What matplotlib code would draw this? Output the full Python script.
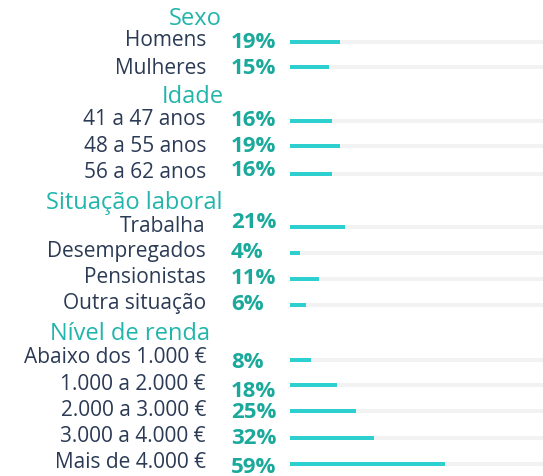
import matplotlib
matplotlib.use("Agg")
import matplotlib.pyplot as plt

# ---- data ----
groups = ["Sexo", "Idade", "Situação laboral", "Nível de renda"]
sexo_labels = ["Homens", "Mulheres"]
sexo_values = [19, 15]
idade_labels = ["41 a 47 anos", "48 a 55 anos", "56 a 62 anos"]
idade_values = [16, 19, 16]
situacao_labels = ["Trabalha", "Desempregados", "Pensionistas", "Outra situação"]
situacao_values = [21, 4, 11, 6]
renda_labels = ["Abaixo dos 1.000 €", "1.000 a 2.000 €", "2.000 a 3.000 €",
                "3.000 a 4.000 €", "Mais de 4.000 €"]
renda_values = [8, 18, 25, 32, 59]

labels = sexo_labels + idade_labels + situacao_labels + renda_labels
values = sexo_values + idade_values + situacao_values + renda_values

# ---- layout (pixel positions) ----
W, H = 543, 477
header_y = [19, 97, 203, 334]
header_x = [222, 224, 223, 210]
bar_y = [43, 68, 122, 147, 175, 228, 254, 280, 306, 361, 386, 412, 439, 465]
label_y = [41, 68, 120, 146, 172, 226, 252, 278, 304, 358, 385, 411, 437, 463]
pct_y = [42, 68, 121, 147, 171, 223, 252, 279, 304, 362, 392, 413, 439, 468]

TEAL_TXT = "#1aa99b"
HEAD = "#22b5ab"
LABEL = "#2b3a55"
BAR = "#2ecfcf"
TRACK = "#f2f2f2"

fig = plt.figure(figsize=(W / 100, H / 100), dpi=100)
fig.patch.set_facecolor("white")

x0 = 290
px_per_pct = 2.62
ax = fig.add_axes([x0 / W, 0, 1 - x0 / W, 1])
ax.set_xlim(0, (W - x0) / px_per_pct)
ax.set_ylim(H, 0)
ax.axis("off")
bh = 4.5
ax.barh(bar_y, [100] * len(values), height=bh, color=TRACK, left=0, linewidth=0)
ax.barh(bar_y, values, height=bh, color=BAR, linewidth=0)

fam = ["Open Sans", "DejaVu Sans"]
def fy(py):
    return 1 - py / H

for g, gx, gy in zip(groups, header_x, header_y):
    fig.text(gx / W, fy(gy), g, ha="right", va="center", fontsize=17,
             color=HEAD, family=fam)

for lab, ly in zip(labels, label_y):
    fig.text(206 / W, fy(ly), lab, ha="right", va="center", fontsize=15,
             color=LABEL, family=fam)

for v, py in zip(values, pct_y):
    fig.text(231 / W, fy(py), f"{v}%", ha="left", va="center", fontsize=16,
             color=TEAL_TXT, family=fam, fontweight="bold")

fig.savefig("out.png", dpi=100, facecolor="white")
